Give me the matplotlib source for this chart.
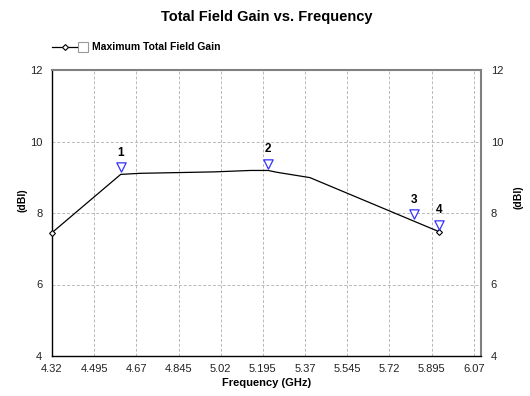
import numpy as np
import matplotlib
matplotlib.use("Agg")
import matplotlib.pyplot as plt
from matplotlib.lines import Line2D
from matplotlib.patches import Rectangle
from matplotlib.transforms import offset_copy

plt.rcParams['font.family'] = ['Liberation Sans', 'DejaVu Sans']

# data
freq_ghz = [4.32, 4.605, 4.685, 4.84, 4.992, 5.144, 5.217, 5.252, 5.39, 5.925]
gain_dbi = [7.45, 9.08, 9.11, 9.13, 9.15, 9.19, 9.19, 9.14, 8.99, 7.48]
marker_freq = [4.605, 5.217, 5.823, 5.925]
marker_names = ["1", "2", "3", "4"]
xticks = [4.32, 4.495, 4.67, 4.845, 5.02, 5.195, 5.37, 5.545, 5.72, 5.895, 6.07]
yticks = [4, 6, 8, 10, 12]

W, H = 530, 396
fig = plt.figure(figsize=(W / 100, H / 100), dpi=100)
ax = fig.add_axes([52 / W, 1 - 356 / H, (481 - 52) / W, (356 - 70) / H])

ax.plot(freq_ghz, gain_dbi, color='black', lw=0.9, marker='D', ms=3,
        mfc='white', mec='black', mew=0.8, markevery=[0, len(freq_ghz) - 1],
        zorder=3, clip_on=False)

# blue triangle markers sitting above the curve
marker_gain = np.interp(marker_freq, freq_ghz, gain_dbi)
tri_tr = offset_copy(ax.transData, fig=fig, y=5, units='points')
ax.scatter(marker_freq, marker_gain, marker='v', s=45, facecolors='white',
           edgecolors='#3333ff', linewidths=0.9, transform=tri_tr, zorder=4)
txt_tr = offset_copy(ax.transData, fig=fig, y=11, units='points')
for f, g, n in zip(marker_freq, marker_gain, marker_names):
    ax.text(f, g, n, transform=txt_tr, ha='center', va='bottom',
            fontsize=8.5, fontweight='bold', color='black')

ax.set_xlim(4.32, 6.1)
ax.set_ylim(4, 12)
ax.set_xticks(xticks)
ax.set_xticklabels([str(t) for t in xticks])
ax.set_yticks(yticks)
ax.tick_params(axis='both', length=0, labelsize=8, colors='#222222')
ax.tick_params(axis='x', pad=6)
ax.tick_params(axis='y', pad=7, labelright=True, right=True)
ax.grid(True, color='#b8b8b8', linestyle=(0, (3, 2)), lw=0.7)

for s in ['left', 'bottom']:
    ax.spines[s].set_color('black')
    ax.spines[s].set_linewidth(1.0)
for s in ['top', 'right']:
    ax.spines[s].set_color('#808080')
    ax.spines[s].set_linewidth(1.5)

ax.set_xlabel("Frequency (GHz)", fontsize=8, fontweight='bold', labelpad=3)
fig.text(22 / W, 1 - 200 / H, "(dBI)", rotation=90, ha='center', va='center',
         fontsize=7.5, fontweight='bold')
fig.text(519 / W, 1 - 197 / H, "(dBI)", rotation=90, ha='center', va='center',
         fontsize=7.5, fontweight='bold')

fig.text(267 / W, 1 - 17 / H, "Total Field Gain vs. Frequency", ha='center', va='center',
         fontsize=10.5, fontweight='bold')

# legend drawn by hand: line with diamond, empty checkbox, label
fig.add_artist(Line2D([52 / W, 77 / W], [1 - 47 / H, 1 - 47 / H], color='black', lw=0.9))
fig.add_artist(Line2D([64.5 / W], [1 - 47 / H], marker='D', ms=3, mfc='white',
                      mec='black', mew=0.8, lw=0))
fig.add_artist(Rectangle((78 / W, 1 - 52 / H), 10 / W, 10 / H, fill=False,
                         edgecolor='#9a9a9a', lw=0.8))
fig.text(92 / W, 1 - 47 / H, "Maximum Total Field Gain", ha='left', va='center',
         fontsize=7.5, fontweight='bold')

fig.savefig("out.png", dpi=100, facecolor='white')
